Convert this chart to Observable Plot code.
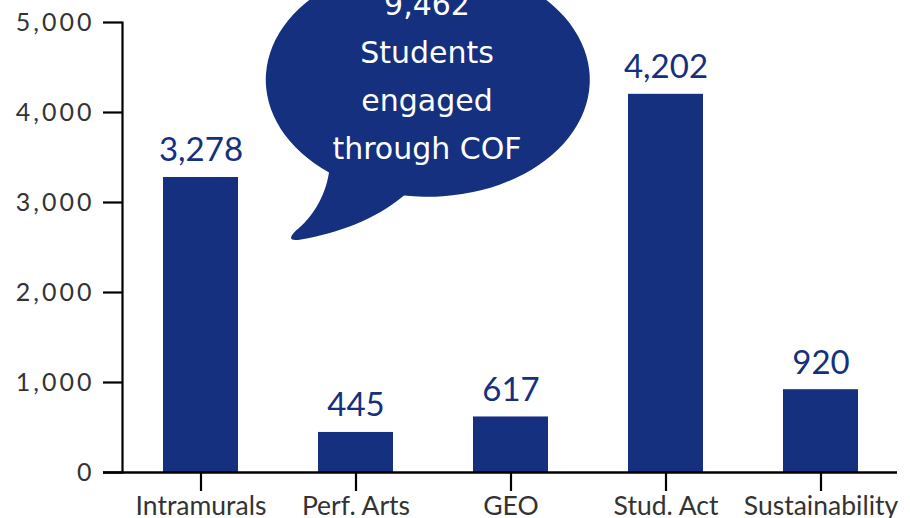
<!DOCTYPE html>
<html>
<head>
<meta charset="utf-8">
<script src="https://cdn.jsdelivr.net/npm/d3@7"></script>
<script src="https://cdn.jsdelivr.net/npm/@observablehq/plot@0.6"></script>
<style>
  html, body { margin: 0; padding: 0; background: #fff; }
  #chart svg { display: block; }
  g[aria-label="y-axis tick label"] text { letter-spacing: 3px; }
</style>
</head>
<body>
<div id="chart"></div>
<script>
const categories = ["Intramurals", "Perf. Arts", "GEO", "Stud. Act", "Sustainability"];
const values = [3278, 445, 617, 4202, 920];
const yTicks = [0, 1000, 2000, 3000, 4000, 5000];
const bubbleLines = ["9,462", "Students", "engaged", "through COF"];
const bubbleAnchor = {between: ["Perf. Arts", "GEO"], value: 4350};

const data = categories.map((c, i) => ({category: c, value: values[i]}));
const fmt = d3.format(",");
const navy = "#14307f";

const plot = Plot.plot({
  width: 910,
  height: 518,
  marginTop: 22,
  marginBottom: 46,
  marginLeft: 122,
  marginRight: 10,
  style: {fontFamily: "Lato, sans-serif", background: "#fff", overflow: "visible"},
  x: {domain: categories, paddingInner: 0.514, paddingOuter: 0.26, label: null},
  y: {domain: [0, 5000], label: null},
  marks: [
    Plot.barY(data, {x: "category", y: "value", fill: navy}),
    Plot.text(data, {x: "category", y: "value", text: d => fmt(d.value), dy: -16,
      lineAnchor: "bottom", fill: navy, fontSize: 33, fontFamily: "Lato"}),
    Plot.axisY({ticks: yTicks, tickFormat: fmt, tickSize: 19, tickPadding: 9,
      fontSize: 25, stroke: "#000", fill: "#333", strokeWidth: 2.2, label: null}),
    Plot.axisX({tickSize: 19, tickPadding: 5, fontSize: 26.5, stroke: "#000",
      fill: "#333", strokeWidth: 2.2, label: null}),
    Plot.frame({anchor: "left", stroke: "#000", strokeWidth: 2.2}),
    Plot.ruleY([0], {stroke: "#000", strokeWidth: 2.4, insetLeft: -19, insetRight: 3})
  ]
});

document.getElementById("chart").appendChild(plot);

// Speech-bubble annotation positioned through the chart's scales
const sx = plot.scale("x"), sy = plot.scale("y");
const cx = (sx.apply(bubbleAnchor.between[0]) + sx.apply(bubbleAnchor.between[1])) / 2 + sx.bandwidth / 2 - 4;
const cy = sy.apply(bubbleAnchor.value);
const rx = 162, ry = 117;
const p = (dx, dy) => `${cx + dx},${cy + dy}`;
const path = [
  `M${p(-100, 92)}`,
  `C${p(-104, 118)} ${p(-118, 138)} ${p(-133, 150)}`,
  `Q${p(-145, 162)} ${p(-128, 159)}`,
  `C${p(-90, 152)} ${p(-55, 140)} ${p(-25, 115)}`,
  `A${rx},${ry} 0 1 0 ${p(-100, 92)}`,
  "Z"
].join(" ");
const svg = d3.select(plot);
const g = svg.append("g").attr("class", "bubble");
g.append("path").attr("d", path).attr("fill", navy);
g.selectAll("text").data(bubbleLines).join("text")
  .attr("x", cx - 2)
  .attr("y", (d, i) => cy - 66 + i * 48)
  .attr("text-anchor", "middle")
  .attr("fill", "#fff")
  .attr("font-family", "'DejaVu Sans', sans-serif")
  .attr("font-size", 30)
  .text(d => d);
</script>
</body>
</html>
